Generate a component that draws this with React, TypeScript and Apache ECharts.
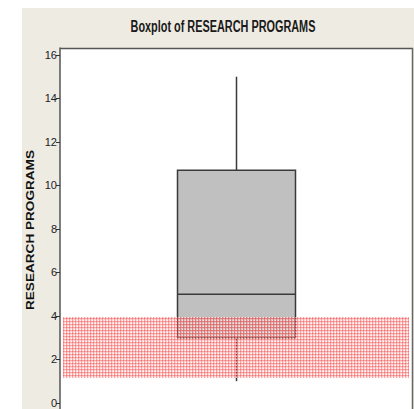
import React, { useEffect, useRef } from "react";
import * as echarts from "echarts";

// Five-number summary for the single variable
const CATEGORIES = ["RESEARCH PROGRAMS"];
const WHISKER_LOW = [1];
const Q1 = [3];
const MEDIAN = [5];
const Q3 = [10.7];
const WHISKER_HIGH = [15];

// Highlighted value range (lower, upper)
const BAND = [1.15, 3.95];

// Y-axis tick values
const Y_TICKS = [0, 2, 4, 6, 8, 10, 12, 14, 16];

const SANS = "'Liberation Sans', Arial, sans-serif";

function makeHatch(): HTMLCanvasElement {
  const c = document.createElement("canvas");
  c.width = 3;
  c.height = 3;
  const ctx = c.getContext("2d")!;
  ctx.fillStyle = "rgba(255,185,185,0.6)";
  ctx.fillRect(0, 0, 3, 3);
  ctx.clearRect(0, 0, 3, 1);
  ctx.clearRect(0, 0, 1, 3);
  ctx.fillStyle = "rgba(245,70,70,0.5)";
  ctx.fillRect(0, 0, 3, 1);
  ctx.fillRect(0, 0, 1, 3);
  ctx.clearRect(2, 2, 1, 1);
  ctx.fillStyle = "rgba(255,255,255,0.7)";
  ctx.fillRect(2, 2, 1, 1);
  return c;
}

export default function App() {
  const ref = useRef<HTMLDivElement>(null);

  useEffect(() => {
    if (!ref.current) return;
    const chart = echarts.init(ref.current, undefined, { renderer: "svg" });
    const hatch = makeHatch();

    const boxData = CATEGORIES.map((_, i) => [
      i,
      WHISKER_LOW[i],
      Q1[i],
      MEDIAN[i],
      Q3[i],
      WHISKER_HIGH[i],
    ]);

    const option: any = {
      animation: false,
      backgroundColor: "#ffffff",
      graphic: [
        {
          type: "rect",
          z: -10,
          silent: true,
          shape: { x: 22, y: 8, width: 400, height: 410 },
          style: { fill: "#EEEBE2" },
        },
        {
          type: "text",
          x: 223,
          y: 27,
          scaleX: 0.68,
          style: {
            text: "Boxplot of RESEARCH PROGRAMS",
            font: `bold 16px ${SANS}`,
            fill: "#1a1a1a",
            align: "center",
            verticalAlign: "middle",
          },
        },
        {
          type: "text",
          x: 31,
          y: 230,
          rotation: Math.PI / 2,
          scaleX: 1.36,
          style: {
            text: "RESEARCH PROGRAMS",
            font: `bold 10px ${SANS}`,
            fill: "#111111",
            align: "center",
            verticalAlign: "middle",
          },
        },
        // plot frame: top and right edges
        {
          type: "line",
          z: 10,
          shape: { x1: 60, y1: 48.5, x2: 413, y2: 48.5 },
          style: { stroke: "#555555", lineWidth: 1.5 },
        },
        {
          type: "line",
          z: 10,
          shape: { x1: 412.5, y1: 48, x2: 412.5, y2: 409 },
          style: { stroke: "#666666", lineWidth: 1.5 },
        },
      ],
      grid: {
        left: 60,
        right: 1,
        top: 48,
        bottom: 0,
        show: true,
        backgroundColor: "#ffffff",
        borderWidth: 0,
      },
      xAxis: {
        type: "category",
        data: CATEGORIES,
        show: false,
      },
      yAxis: {
        type: "value",
        min: -0.28,
        max: 16.32,
        axisLine: { show: true, lineStyle: { color: "#555555", width: 1.5 } },
        axisTick: {
          show: true,
          length: 4,
          lineStyle: { color: "#333333" },
          customValues: Y_TICKS,
        },
        axisLabel: {
          margin: 3,
          fontFamily: SANS,
          fontSize: 11,
          color: "#222222",
          customValues: Y_TICKS,
        },
        splitLine: { show: false },
      },
      series: [
        {
          type: "custom",
          data: boxData,
          z: 2,
          renderItem: (params: any, api: any) => {
            const x = api.value(0);
            const lo = api.coord([x, api.value(1)]);
            const q1 = api.coord([x, api.value(2)]);
            const med = api.coord([x, api.value(3)]);
            const q3 = api.coord([x, api.value(4)]);
            const hi = api.coord([x, api.value(5)]);
            const half = 59;
            const cx = q1[0];
            const stroke = { stroke: "#3a3a3a", lineWidth: 1.5 };
            return {
              type: "group",
              children: [
                {
                  type: "line",
                  shape: { x1: cx, y1: q3[1], x2: cx, y2: hi[1] },
                  style: stroke,
                },
                {
                  type: "line",
                  shape: { x1: cx, y1: q1[1], x2: cx, y2: lo[1] },
                  style: stroke,
                },
                {
                  type: "rect",
                  shape: { x: cx - half, y: q3[1], width: half * 2, height: q1[1] - q3[1] },
                  style: { fill: "#C0C0C0", stroke: "#3a3a3a", lineWidth: 1.5 },
                },
                {
                  type: "line",
                  shape: { x1: cx - half, y1: med[1], x2: cx + half, y2: med[1] },
                  style: stroke,
                },
              ],
            };
          },
        },
        {
          type: "custom",
          data: [[0, BAND[0], BAND[1]]],
          z: 5,
          renderItem: (params: any, api: any) => {
            const cs = params.coordSys;
            const top = api.coord([0, api.value(2)])[1];
            const bottom = api.coord([0, api.value(1)])[1];
            return {
              type: "rect",
              shape: { x: cs.x + 3, y: top, width: cs.width - 7, height: bottom - top },
              style: { fill: { image: hatch, repeat: "repeat" } },
            };
          },
        },
      ],
    };

    chart.setOption(option);
    return () => chart.dispose();
  }, []);

  return (
    <div
      ref={ref}
      style={{ position: "absolute", left: 0, top: 0, width: 414, height: 409 }}
    />
  );
}
